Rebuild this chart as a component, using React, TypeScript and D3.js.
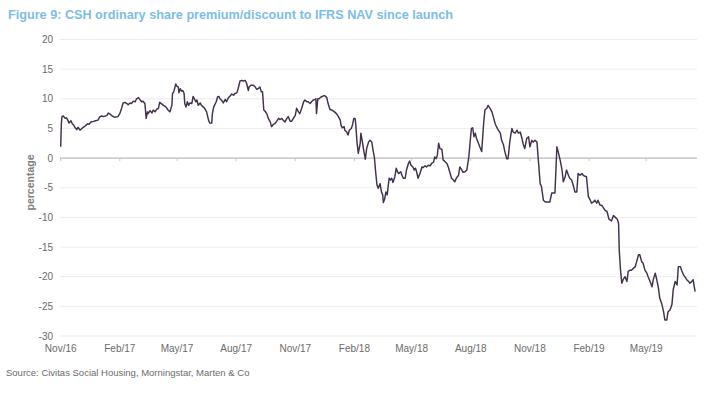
import React from 'react';
import * as d3 from 'd3';

// CSH launched 18 Nov 2016; x positions are days since launch
const launch = new Date(2016, 10, 18);
const axisDays = 990;

const tickLabels = ['Nov/16', 'Feb/17', 'May/17', 'Aug/17', 'Nov/17', 'Feb/18', 'May/18', 'Aug/18', 'Nov/18', 'Feb/19', 'May/19'];
const yTicks = [20, 15, 10, 5, 0, -5, -10, -15, -20, -25, -30];

// [days since launch, premium/discount %]
const premium: [number, number][] = [
  [0, 1.9], [1, 5.8], [2, 7.0], [4, 7.1], [7, 6.7], [9, 6.8], [11, 6.4], [13, 5.9], [16, 6.3], [18, 5.8],
  [20, 5.6], [22, 5.2], [25, 4.8], [27, 5.2], [30, 4.7], [33, 5.0], [35, 5.2], [38, 5.4], [40, 5.6], [42, 5.8],
  [44, 5.7], [47, 6.1], [51, 6.2], [54, 6.3], [58, 6.4], [61, 7.0], [64, 7.1], [67, 7.0], [72, 7.2], [74, 7.6],
  [77, 7.4], [80, 7.1], [84, 6.9], [89, 7.0], [92, 7.5], [95, 8.5], [97, 9.3], [100, 9.4], [103, 9.2], [105, 9.0],
  [108, 9.3], [110, 9.2], [113, 9.6], [116, 9.5], [118, 10.0], [121, 10.2], [123, 9.9], [126, 9.5], [128, 9.6], [131, 9.2],
  [133, 6.7], [135, 7.8], [136, 7.5], [139, 8.0], [142, 7.6], [144, 8.1], [147, 7.8], [149, 8.2], [152, 8.4], [154, 9.4],
  [160, 8.9], [164, 8.6], [167, 8.1], [170, 7.8], [173, 8.9], [174, 10.9], [176, 11.2], [179, 12.5], [181, 12.1], [183, 12.0],
  [184, 11.0], [186, 11.7], [188, 11.3], [190, 11.4], [192, 10.9], [193, 9.2], [195, 8.6], [197, 9.5], [199, 8.9], [201, 9.3],
  [204, 9.2], [206, 10.4], [208, 10.0], [210, 9.5], [212, 9.8], [214, 8.9], [217, 9.3], [219, 8.9], [222, 8.6], [224, 8.4],
  [227, 7.8], [230, 6.4], [232, 5.9], [235, 5.9], [236, 7.5], [238, 8.6], [242, 9.5], [244, 10.3], [246, 10.4], [248, 10.0],
  [250, 9.8], [253, 9.3], [256, 9.9], [258, 9.5], [261, 10.2], [263, 10.4], [266, 10.8], [269, 10.6], [271, 10.9], [274, 11.0],
  [276, 11.7], [279, 13.0], [282, 13.1], [284, 13.0], [287, 13.1], [289, 12.7], [292, 11.4], [293, 12.0], [296, 12.3], [299, 12.3],
  [302, 12.1], [305, 11.6], [307, 11.7], [310, 12.0], [312, 11.2], [314, 11.2], [316, 8.1], [318, 7.9], [321, 7.4], [323, 6.7],
  [326, 6.1], [328, 5.3], [331, 5.7], [333, 5.8], [336, 6.2], [339, 6.7], [341, 6.5], [344, 6.7], [346, 6.4], [349, 6.1],
  [352, 6.7], [354, 7.0], [357, 6.2], [359, 6.2], [362, 6.7], [365, 7.2], [367, 8.4], [370, 7.8], [372, 7.5], [375, 8.4],
  [378, 9.5], [380, 9.8], [383, 9.5], [385, 9.5], [388, 9.2], [391, 9.6], [393, 9.8], [396, 9.9], [397, 10.0], [398, 7.5],
  [400, 10.0], [402, 10.0], [405, 10.3], [409, 10.5], [411, 10.5], [414, 10.2], [416, 9.2], [419, 8.2], [422, 8.1], [426, 7.8],
  [429, 7.5], [432, 7.0], [435, 6.4], [436, 5.6], [438, 5.1], [441, 5.3], [442, 4.7], [445, 4.4], [447, 3.9], [449, 4.7],
  [452, 5.0], [454, 5.6], [456, 6.7], [458, 6.7], [459, 5.8], [461, 2.7], [463, 0.8], [466, 2.5], [467, 4.2], [469, 3.0],
  [471, 1.6], [474, -0.2], [476, 1.6], [479, 2.7], [481, 3.0], [484, 2.7], [486, 1.3], [488, 0.2], [490, -2.3], [492, -4.5],
  [494, -5.1], [497, -4.3], [499, -5.7], [501, -6.2], [502, -7.5], [504, -6.9], [506, -5.7], [508, -6.2], [510, -4.3], [511, -3.4],
  [513, -3.7], [515, -3.4], [517, -4.1], [520, -3.1], [522, -1.7], [524, -2.3], [526, -2.6], [529, -2.3], [531, -2.9], [533, -3.4],
  [536, -3.4], [538, -2.0], [541, -0.9], [543, -0.5], [545, -1.2], [548, -1.5], [550, -2.0], [552, -1.7], [554, -2.4], [556, -3.4],
  [559, -2.6], [562, -1.5], [564, -1.6], [567, -1.3], [569, -1.5], [572, -1.2], [575, -1.3], [577, -0.9], [580, -0.7], [582, 0.2],
  [584, -0.1], [586, 0.5], [588, 2.5], [590, 1.6], [593, 1.5], [595, -0.3], [598, -0.6], [601, -0.9], [603, -1.5], [606, -2.6],
  [608, -3.4], [611, -3.7], [613, -4.0], [616, -3.3], [619, -2.9], [621, -1.5], [624, -2.0], [626, -2.4], [629, -2.3], [632, -2.0],
  [633, -1.2], [635, 0.2], [637, 2.7], [639, 5.0], [641, 5.1], [643, 3.6], [645, 4.2], [647, 3.3], [650, 2.5], [652, 1.9],
  [655, 1.1], [658, 5.8], [660, 8.1], [663, 8.4], [665, 8.9], [668, 8.4], [671, 7.8], [673, 7.0], [676, 5.8], [678, 5.3],
  [681, 4.7], [684, 4.2], [686, 3.0], [689, 2.2], [691, 1.1], [694, -0.1], [696, -0.1], [699, 3.0], [702, 5.0], [704, 4.4],
  [707, 4.2], [710, 4.7], [712, 4.2], [715, 4.4], [717, 3.6], [720, 2.2], [722, 1.6], [725, 3.3], [728, 3.6], [730, 1.9],
  [733, 3.0], [735, 2.7], [738, 3.0], [741, 2.7], [743, -0.1], [746, -4.3], [748, -4.8], [751, -7.1], [754, -7.4], [759, -7.4],
  [761, -7.4], [764, -5.9], [769, -5.9], [772, 1.9], [774, 1.1], [777, -0.3], [780, -2.0], [782, -4.0], [785, -3.1], [787, -2.0],
  [790, -2.9], [792, -3.4], [795, -3.7], [798, -4.8], [800, -5.7], [803, -5.7], [805, -2.6], [808, -2.9], [811, -2.6], [813, -2.9],
  [816, -3.1], [818, -3.1], [821, -6.5], [824, -7.1], [826, -7.6], [829, -7.4], [831, -7.1], [834, -7.6], [836, -7.1], [839, -7.9],
  [842, -8.0], [844, -8.3], [847, -8.8], [850, -9.0], [853, -10.3], [857, -10.6], [860, -9.7], [863, -10.0], [866, -10.3], [868, -11.0],
  [869, -15.5], [871, -18.9], [873, -21.1], [875, -20.5], [878, -20.0], [881, -20.8], [883, -19.1], [886, -18.9], [888, -18.9], [891, -18.6],
  [894, -18.3], [896, -17.5], [899, -16.3], [901, -16.3], [904, -17.5], [906, -17.7], [909, -18.9], [912, -19.4], [914, -20.0], [917, -20.8],
  [920, -21.7], [922, -20.5], [925, -19.4], [927, -20.3], [930, -21.9], [932, -23.6], [935, -24.5], [938, -25.9], [940, -27.3], [943, -27.3],
  [945, -25.9], [948, -25.6], [951, -24.7], [953, -22.2], [956, -20.8], [959, -21.4], [961, -18.3], [964, -18.3], [966, -18.9], [969, -19.7],
  [971, -20.0], [974, -20.5], [977, -20.8], [979, -21.1], [982, -20.8], [984, -20.5], [987, -22.5],
];

const font = '"Liberation Sans", Arial, sans-serif';

export default function App() {
  const width = 706;
  const height = 398;

  const x = d3
    .scaleTime()
    .domain([launch, d3.timeDay.offset(launch, axisDays)])
    .range([60.7, 697]);
  const y = d3.scaleLinear().domain([-30, 20]).range([336, 39.5]);

  const line = d3
    .line<[number, number]>()
    .x((d) => x(d3.timeDay.offset(launch, d[0])))
    .y((d) => y(d[1]));

  const ticks = tickLabels.map((label, i) => ({ label, date: d3.timeMonth.offset(launch, i * 3) }));

  return (
    <svg
      width={width}
      height={height}
      style={{ position: 'absolute', left: 0, top: 0, background: '#fff' }}
      fontFamily={font}
    >
      <text x={8} y={18.5} fontSize={13} fontWeight="bold" fill="#7dbde6" textLength={445} lengthAdjust="spacingAndGlyphs">
        Figure 9: CSH ordinary share premium/discount to IFRS NAV since launch
      </text>

      {/* gridlines */}
      {yTicks.map((t) => (
        <g key={t}>
          {t !== 0 && <line x1={60} x2={697} y1={y(t)} y2={y(t)} stroke="#ececec" strokeWidth={1} />}
          <text x={53} y={y(t) + 3.5} fontSize={10} fill="#6b6b6b" textAnchor="end">
            {t}
          </text>
        </g>
      ))}
      <line x1={60} x2={697} y1={y(0)} y2={y(0)} stroke="#a8a8a8" strokeWidth={1} />
      {ticks.map((t) => (
        <line key={t.label} x1={x(t.date)} x2={x(t.date)} y1={y(0)} y2={y(0) + 3} stroke="#c8c8c8" strokeWidth={1} />
      ))}

      <path d={line(premium) || ''} fill="none" stroke="#42304d" strokeWidth={1.45} strokeLinejoin="round" />

      {ticks.map((t) => (
        <text key={t.label} x={x(t.date)} y={351.5} fontSize={10} fill="#6b6b6b" textAnchor="middle">
          {t.label}
        </text>
      ))}

      <text
        transform={`translate(33.5,182.5) rotate(-90)`}
        fontSize={10.5}
        fontWeight="bold"
        fill="#808080"
        textAnchor="middle"
      >
        percentage
      </text>

      <text x={6} y={376} fontSize={9.5} fill="#6b6b6b">
        Source: Civitas Social Housing, Morningstar, Marten &amp; Co
      </text>
    </svg>
  );
}
